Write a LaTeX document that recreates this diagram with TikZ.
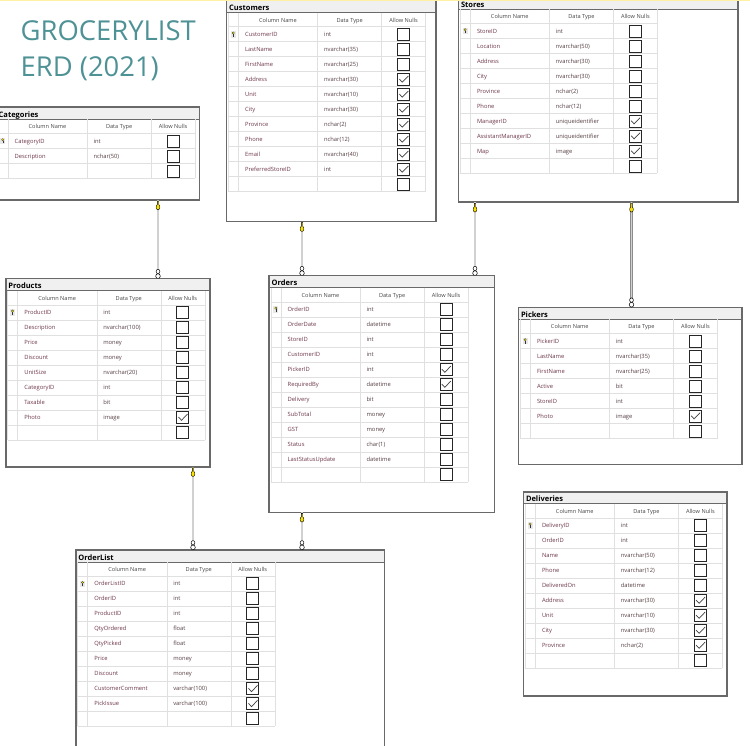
\documentclass[tikz,border=0pt]{standalone}
\usepackage{fontspec}
\setmainfont{Open Sans}
\usetikzlibrary{positioning}

\definecolor{headteal}{RGB}{78,146,150}
\definecolor{framegray}{RGB}{105,105,105}
\definecolor{bargray}{RGB}{240,240,240}
\definecolor{gridgray}{RGB}{224,224,224}
\definecolor{namecol}{RGB}{110,55,75}
\definecolor{typecol}{RGB}{85,62,66}
\definecolor{headcol}{RGB}{70,70,70}
\definecolor{keyyellow}{RGB}{250,225,0}
\definecolor{selyellow}{RGB}{255,240,165}

% #1 name, #2 title, #3 left, #4 top, #5 right, #6 bottom, #7 rows, #8 columns
\newcommand{\ertable}[8]{%
  \fill[white] (#3,#4) rectangle (#5,#6);
  \fill[bargray] (#3,#4) rectangle (#5,#4+12);
  \draw[framegray, line width=0.8pt] (#3,#4+12) -- (#5,#4+12);
  \foreach \k in {0,...,#7}
    \draw[gridline] (#3+1.8,#4+26.2+15*\k) -- (#3+199.1,#4+26.2+15*\k);
  \foreach \dx in {1.8,11.8,91.1,155.1,199.1}
    \draw[gridline] (#3+\dx,#4+12) -- (#3+\dx,#4+26.2+15*#7);
  \node[headtext] (#1-hc) at (#3+51.45,#4+21.5) {Column Name};
  \node[headtext] (#1-ht) at (#3+123.1,#4+21.5) {Data Type};
  \node[headtext] (#1-hn) at (#3+177.1,#4+21.5) {Allow Nulls};
  \fill[gray!18] (#3+4.3,#4+30.7) rectangle (#3+9.3,#4+37);
  \filldraw[fill=keyyellow, draw=black!80, line width=0.25pt] (#3+6.8,#4+32.4) circle (1.2pt);
  \draw[black!80, line width=0.5pt] (#3+6.8,#4+33.6) -- (#3+6.8,#4+36.2);
  \foreach [count=\i] \colnm/\coltp/\colnull in {#8} {
    \pgfmathsetmacro\ry{#4+33.7+15*(\i-1)}
    \node[coltext, text=namecol] (#1-n\i) at (#3+18.5,\ry+2.1) {\colnm};
    \node[coltext, text=typecol] (#1-t\i) at (#3+97.4,\ry+2.1) {\coltp};
    \node[nullbox] (#1-b\i) at (#3+177.1,\ry) {};
    \ifnum\colnull=1
      \draw[tick] (#3+172.8,\ry-0.3) -- (#3+175.8,\ry+2.9) -- (#3+181.8,\ry-3.3);
    \fi
  }
  \pgfmathsetmacro\ly{#4+33.7+15*(#7-1)}
  \node[nullbox] (#1-b#7) at (#3+177.1,\ly) {};
  \node[tblframe, anchor=north west, minimum width={(#5)-(#3)},
    minimum height={(#6)-(#4)}] (#1) at (#3,#4) {};
  \node[titletext] (#1-title) at (#3+2.5,#4+10.1) {#2};
}

\begin{document}
\begin{tikzpicture}[x=1pt, y=-1pt,
  gridline/.style={draw=gridgray, line width=0.6pt},
  tblframe/.style={draw=framegray, line width=1.6pt, inner sep=0pt, outer sep=0pt},
  titletext/.style={anchor=base west, inner sep=0pt, font=\bfseries\fontsize{7.5}{9}\selectfont},
  headtext/.style={anchor=base, inner sep=0pt, text=headcol, font=\fontsize{5.6}{7}\selectfont},
  coltext/.style={anchor=base west, inner sep=0pt, font=\fontsize{5.8}{7}\selectfont},
  nullbox/.style={draw=black!85, fill=white, line width=0.8pt, minimum size=12pt, inner sep=0pt},
  tick/.style={draw=black!75, line width=0.7pt},
  bigtitle/.style={anchor=base west, inner sep=0pt, text=headteal, font=\fontsize{27.4}{30}\selectfont},
  relline/.style={draw=black!45, double=black!18, double distance=1.1pt, line width=0.7pt},
  keyend/.pic={
    \filldraw[fill=keyyellow, draw=black, line width=0.4pt]
      (-0.7,1) -- (-0.7,4.5) .. controls (-2.4,5.5) and (-2.2,9.8) .. (0,9.8)
      .. controls (2.2,9.8) and (2.4,5.5) .. (0.7,4.5) -- (0.7,1) -- cycle;
  },
  manyend/.pic={
    \filldraw[fill=white, draw=black, line width=0.5pt] (0,-2.6) ellipse [x radius=2.3pt, y radius=2.4pt];
    \filldraw[fill=white, draw=black, line width=0.5pt] (0,-7.2) ellipse [x radius=1.9pt, y radius=2.2pt];
  }]
\clip (0,0) rectangle (750,746);
\fill[white] (0,0) rectangle (750,746);

\node[bigtitle] (heading) at (20.5,41) {GROCERYLIST};
\node[bigtitle] (year) at ([yshift=-36pt]heading.base west) {ERD (2021)};

\ertable{customers}{Customers}{226.5}{0.6}{435.7}{221.7}{11}{CustomerID/int/0, LastName/nvarchar(35)/0,
  FirstName/nvarchar(25)/0, Address/nvarchar(30)/1, Unit/nvarchar(10)/1, City/nvarchar(30)/1,
  Province/nchar(2)/1, Phone/nchar(12)/1, Email/nvarchar(40)/1, PreferredStoreID/int/1}
\ertable{stores}{Stores}{458.3}{-2.7}{737.7}{202.3}{10}{StoreID/int/0, Location/nvarchar(50)/0,
  Address/nvarchar(30)/0, City/nvarchar(30)/0, Province/nchar(2)/0, Phone/nchar(12)/0,
  ManagerID/uniqueidentifier/1, AssistantManagerID/uniqueidentifier/1, Map/image/1}
\ertable{categories}{Categories}{-4}{107.3}{199.3}{200}{3}{CategoryID/int/0, Description/nchar(50)/0}
\ertable{products}{Products}{5.7}{278.7}{210}{466.7}{9}{ProductID/int/0, Description/nvarchar(100)/0,
  Price/money/0, Discount/money/0, UnitSize/nvarchar(20)/0, CategoryID/int/0, Taxable/bit/0,
  Photo/image/1}
\ertable{orders}{Orders}{269}{275.7}{494.3}{512.3}{12}{OrderID/int/0, OrderDate/datetime/0,
  StoreID/int/0, CustomerID/int/0, PickerID/int/1, RequiredBy/datetime/1, Delivery/bit/0,
  SubTotal/money/0, GST/money/0, Status/char(1)/0, LastStatusUpdate/datetime/0}
\ertable{pickers}{Pickers}{518.3}{307.3}{741.7}{464.3}{7}{PickerID/int/0, LastName/nvarchar(35)/0,
  FirstName/nvarchar(25)/0, Active/bit/0, StoreID/int/0, Photo/image/1}
\ertable{deliveries}{Deliveries}{523.3}{491.7}{726.7}{696}{10}{DeliveryID/int/0, OrderID/int/0,
  Name/nvarchar(50)/0, Phone/nvarchar(12)/0, DeliveredOn/datetime/0, Address/nvarchar(30)/1,
  Unit/nvarchar(10)/1, City/nvarchar(30)/1, Province/nchar(2)/1}
\ertable{orderlist}{OrderList}{75.7}{550}{384.3}{760}{10}{OrderListID/int/0, OrderID/int/0,
  ProductID/int/0, QtyOrdered/float/0, QtyPicked/float/0, Price/money/0, Discount/money/0,
  CustomerComment/varchar(100)/1, PickIssue/varchar(100)/1}

\draw[relline] (categories.south west) ++(162,0) coordinate (catkey) -- (catkey |- products.north) coordinate (prodmany);
\draw[relline] (customers.south west) ++(75.5,0) coordinate (custkey) -- (custkey |- orders.north) coordinate (ordmany);
\draw[relline] (stores.south west) ++(16.7,0) coordinate (storekey) -- (storekey |- orders.north) coordinate (ordmanyb);
\draw[relline] (stores.south west) ++(173.2,0) coordinate (storekeyb) -- (storekeyb |- pickers.north) coordinate (pickmany);
\draw[relline] (products.south west) ++(187.3,0) coordinate (prodkey) -- (prodkey |- orderlist.north) coordinate (olmany);
\draw[relline] (orders.south west) ++(33,0) coordinate (ordkey) -- (ordkey |- orderlist.north) coordinate (olmanyb);

\foreach \kname in {catkey,custkey,storekey,storekeyb,prodkey,ordkey}
  \pic at (\kname) {keyend};
\foreach \mname in {prodmany,ordmany,ordmanyb,pickmany,olmany,olmanyb}
  \pic at (\mname) {manyend};

\fill[selyellow] (0,0) rectangle (750,1.2);
\end{tikzpicture}
\end{document}
